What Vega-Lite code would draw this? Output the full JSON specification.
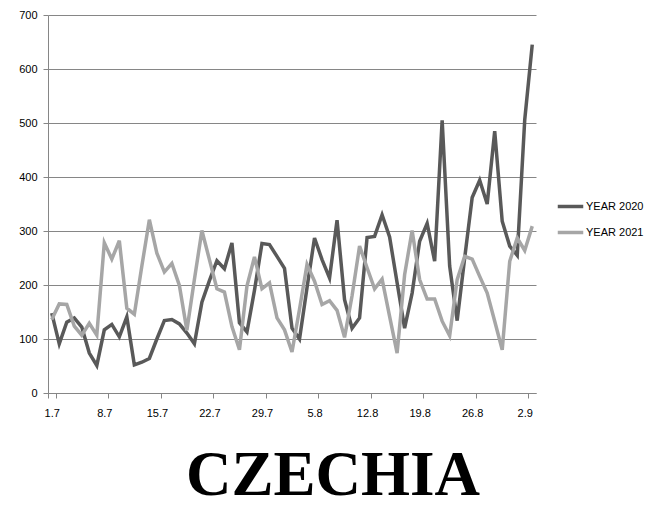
{
  "$schema": "https://vega.github.io/schema/vega-lite/v6.json",
  "autosize": {"type": "none"},
  "width": 488,
  "height": 378,
  "padding": {"left": 48, "top": 15, "right": 122, "bottom": 113},
  "background": "white",
  "title": {
    "text": "CZECHIA",
    "orient": "bottom",
    "anchor": "middle",
    "font": "Liberation Serif",
    "fontSize": 63,
    "fontWeight": "bold",
    "color": "#000000",
    "offset": 27,
    "dx": 41
  },
  "config": {
    "view": {"stroke": null},
    "axis": {"labelFont": "Liberation Sans", "labelFontSize": 11, "labelColor": "#000000"},
    "legend": {"labelFont": "Liberation Sans", "labelFontSize": 11, "labelColor": "#000000"}
  },
  "data": {
    "values": [
      {"date":"1.7","year":"YEAR 2020","value":148},{"date":"2.7","year":"YEAR 2020","value":91},{"date":"3.7","year":"YEAR 2020","value":131},{"date":"4.7","year":"YEAR 2020","value":139},{"date":"5.7","year":"YEAR 2020","value":122},{"date":"6.7","year":"YEAR 2020","value":74},{"date":"7.7","year":"YEAR 2020","value":51},{"date":"8.7","year":"YEAR 2020","value":117},{"date":"9.7","year":"YEAR 2020","value":127},{"date":"10.7","year":"YEAR 2020","value":104},
      {"date":"11.7","year":"YEAR 2020","value":141},{"date":"12.7","year":"YEAR 2020","value":52},{"date":"13.7","year":"YEAR 2020","value":57},{"date":"14.7","year":"YEAR 2020","value":64},{"date":"15.7","year":"YEAR 2020","value":100},{"date":"16.7","year":"YEAR 2020","value":134},{"date":"17.7","year":"YEAR 2020","value":136},{"date":"18.7","year":"YEAR 2020","value":128},{"date":"19.7","year":"YEAR 2020","value":111},{"date":"20.7","year":"YEAR 2020","value":91},
      {"date":"21.7","year":"YEAR 2020","value":168},{"date":"22.7","year":"YEAR 2020","value":208},{"date":"23.7","year":"YEAR 2020","value":245},{"date":"24.7","year":"YEAR 2020","value":230},{"date":"25.7","year":"YEAR 2020","value":278},{"date":"26.7","year":"YEAR 2020","value":130},{"date":"27.7","year":"YEAR 2020","value":113},{"date":"28.7","year":"YEAR 2020","value":190},{"date":"29.7","year":"YEAR 2020","value":277},{"date":"30.7","year":"YEAR 2020","value":275},
      {"date":"31.7","year":"YEAR 2020","value":253},{"date":"1.8","year":"YEAR 2020","value":231},{"date":"2.8","year":"YEAR 2020","value":120},{"date":"3.8","year":"YEAR 2020","value":100},{"date":"4.8","year":"YEAR 2020","value":195},{"date":"5.8","year":"YEAR 2020","value":287},{"date":"6.8","year":"YEAR 2020","value":247},{"date":"7.8","year":"YEAR 2020","value":213},{"date":"8.8","year":"YEAR 2020","value":320},{"date":"9.8","year":"YEAR 2020","value":173},
      {"date":"10.8","year":"YEAR 2020","value":120},{"date":"11.8","year":"YEAR 2020","value":139},{"date":"12.8","year":"YEAR 2020","value":288},{"date":"13.8","year":"YEAR 2020","value":290},{"date":"14.8","year":"YEAR 2020","value":330},{"date":"15.8","year":"YEAR 2020","value":289},{"date":"16.8","year":"YEAR 2020","value":204},{"date":"17.8","year":"YEAR 2020","value":120},{"date":"18.8","year":"YEAR 2020","value":185},{"date":"19.8","year":"YEAR 2020","value":281},
      {"date":"20.8","year":"YEAR 2020","value":314},{"date":"21.8","year":"YEAR 2020","value":244},{"date":"22.8","year":"YEAR 2020","value":505},{"date":"23.8","year":"YEAR 2020","value":235},{"date":"24.8","year":"YEAR 2020","value":134},{"date":"25.8","year":"YEAR 2020","value":250},{"date":"26.8","year":"YEAR 2020","value":362},{"date":"27.8","year":"YEAR 2020","value":394},{"date":"28.8","year":"YEAR 2020","value":350},{"date":"29.8","year":"YEAR 2020","value":485},
      {"date":"30.8","year":"YEAR 2020","value":318},{"date":"31.8","year":"YEAR 2020","value":272},{"date":"1.9","year":"YEAR 2020","value":255},{"date":"2.9","year":"YEAR 2020","value":506},{"date":"3.9","year":"YEAR 2020","value":645},
      {"date":"1.7","year":"YEAR 2021","value":136},{"date":"2.7","year":"YEAR 2021","value":165},{"date":"3.7","year":"YEAR 2021","value":164},{"date":"4.7","year":"YEAR 2021","value":124},{"date":"5.7","year":"YEAR 2021","value":107},{"date":"6.7","year":"YEAR 2021","value":129},{"date":"7.7","year":"YEAR 2021","value":107},{"date":"8.7","year":"YEAR 2021","value":278},{"date":"9.7","year":"YEAR 2021","value":248},{"date":"10.7","year":"YEAR 2021","value":282},
      {"date":"11.7","year":"YEAR 2021","value":157},{"date":"12.7","year":"YEAR 2021","value":146},{"date":"13.7","year":"YEAR 2021","value":235},{"date":"14.7","year":"YEAR 2021","value":321},{"date":"15.7","year":"YEAR 2021","value":259},{"date":"16.7","year":"YEAR 2021","value":224},{"date":"17.7","year":"YEAR 2021","value":240},{"date":"18.7","year":"YEAR 2021","value":199},{"date":"19.7","year":"YEAR 2021","value":116},{"date":"20.7","year":"YEAR 2021","value":210},
      {"date":"21.7","year":"YEAR 2021","value":301},{"date":"22.7","year":"YEAR 2021","value":247},{"date":"23.7","year":"YEAR 2021","value":193},{"date":"24.7","year":"YEAR 2021","value":187},{"date":"25.7","year":"YEAR 2021","value":123},{"date":"26.7","year":"YEAR 2021","value":80},{"date":"27.7","year":"YEAR 2021","value":198},{"date":"28.7","year":"YEAR 2021","value":252},{"date":"29.7","year":"YEAR 2021","value":193},{"date":"30.7","year":"YEAR 2021","value":204},
      {"date":"31.7","year":"YEAR 2021","value":139},{"date":"1.8","year":"YEAR 2021","value":117},{"date":"2.8","year":"YEAR 2021","value":76},{"date":"3.8","year":"YEAR 2021","value":155},{"date":"4.8","year":"YEAR 2021","value":238},{"date":"5.8","year":"YEAR 2021","value":207},{"date":"6.8","year":"YEAR 2021","value":164},{"date":"7.8","year":"YEAR 2021","value":171},{"date":"8.8","year":"YEAR 2021","value":153},{"date":"9.8","year":"YEAR 2021","value":103},
      {"date":"10.8","year":"YEAR 2021","value":180},{"date":"11.8","year":"YEAR 2021","value":272},{"date":"12.8","year":"YEAR 2021","value":232},{"date":"13.8","year":"YEAR 2021","value":193},{"date":"14.8","year":"YEAR 2021","value":211},{"date":"15.8","year":"YEAR 2021","value":142},{"date":"16.8","year":"YEAR 2021","value":74},{"date":"17.8","year":"YEAR 2021","value":219},{"date":"18.8","year":"YEAR 2021","value":301},{"date":"19.8","year":"YEAR 2021","value":210},
      {"date":"20.8","year":"YEAR 2021","value":174},{"date":"21.8","year":"YEAR 2021","value":174},{"date":"22.8","year":"YEAR 2021","value":133},{"date":"23.8","year":"YEAR 2021","value":106},{"date":"24.8","year":"YEAR 2021","value":210},{"date":"25.8","year":"YEAR 2021","value":253},{"date":"26.8","year":"YEAR 2021","value":248},{"date":"27.8","year":"YEAR 2021","value":216},{"date":"28.8","year":"YEAR 2021","value":185},{"date":"29.8","year":"YEAR 2021","value":133},
      {"date":"30.8","year":"YEAR 2021","value":80},{"date":"31.8","year":"YEAR 2021","value":244},{"date":"1.9","year":"YEAR 2021","value":287},{"date":"2.9","year":"YEAR 2021","value":264},{"date":"3.9","year":"YEAR 2021","value":309}
    ]
  },
  "mark": {"type": "line", "strokeWidth": 3.5, "strokeJoin": "miter"},
  "encoding": {
    "x": {
      "field": "date",
      "type": "ordinal",
      "sort": null,
      "bandPosition": 0.5,
      "scale": {"type": "band", "paddingInner": 0, "paddingOuter": 0},
      "axis": {
        "title": null,
        "values": ["1.7","8.7","15.7","22.7","29.7","5.8","12.8","19.8","26.8","2.9"],
        "labelAngle": 0,
        "tickBand": "extent",
        "tickSize": 5,
        "tickColor": "#868686",
        "domainColor": "#868686",
        "labelPadding": 9,
        "grid": false
      }
    },
    "y": {
      "field": "value",
      "type": "quantitative",
      "scale": {"domain": [0, 700], "nice": false},
      "axis": {
        "title": null,
        "values": [0,100,200,300,400,500,600,700],
        "tickSize": 5,
        "tickColor": "#868686",
        "domainColor": "#868686",
        "gridColor": "#868686",
        "gridOpacity": 1,
        "labelPadding": 6
      }
    },
    "color": {
      "field": "year",
      "type": "nominal",
      "scale": {"domain": ["YEAR 2020","YEAR 2021"], "range": ["#595959","#a6a6a6"]},
      "legend": {
        "title": null,
        "orient": "none",
        "legendX": 508,
        "legendY": 177,
        "symbolType": "stroke",
        "symbolSize": 650,
        "symbolStrokeWidth": 3.5,
        "rowPadding": 4,
        "labelOffset": 1,
        "padding": 0
      }
    }
  }
}
